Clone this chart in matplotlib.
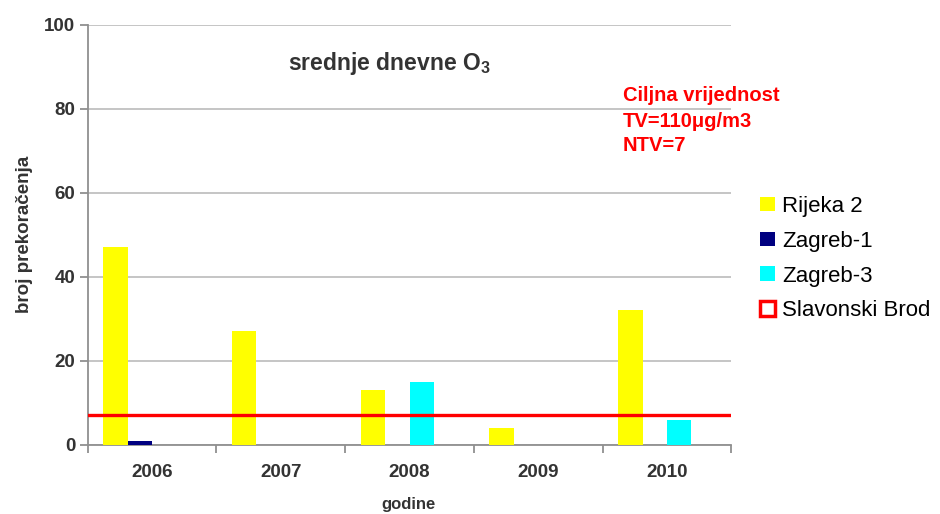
import numpy as np
import matplotlib
matplotlib.use("Agg")
import matplotlib.pyplot as plt

plt.rcParams['font.family'] = ['Liberation Sans', 'DejaVu Sans']

# Broj prekoračenja ciljne vrijednosti (srednje dnevne O3) po godinama
years = ['2006', '2007', '2008', '2009', '2010']
rijeka_2 = [47, 27, 13, 4, 32]
zagreb_1 = [1, 0, 0, 0, 0]
zagreb_3 = [0, 0, 15, 0, 6]
slavonski_brod = [np.nan, np.nan, np.nan, np.nan, np.nan]
ntv = 7

series = [
    ('Rijeka 2', rijeka_2, '#FFFF00', 'none'),
    ('Zagreb-1', zagreb_1, '#000080', 'none'),
    ('Zagreb-3', zagreb_3, '#00FFFF', 'none'),
    ('Slavonski Brod', slavonski_brod, 'white', '#FF0000'),
]

W, H = 940, 514
fig = plt.figure(figsize=(W / 100, H / 100), dpi=100)
ax = fig.add_axes([87.7 / W, 1 - 444.8 / H, (731.4 - 87.7) / W, (444.8 - 24.6) / H])

x = np.arange(len(years))
w = 0.19
handles = []
for i, (name, vals, fc, ec) in enumerate(series):
    off = (i - 1.5) * w
    b = ax.bar(x + off, vals, width=w, color=fc, edgecolor=ec,
               linewidth=2.5 if ec != 'none' else 0, label=name, zorder=3)
    handles.append(b)

ax.axhline(ntv, color='#FF0000', linewidth=2.4, zorder=4)

ax.set_xlim(-0.5, len(years) - 0.5)
ax.set_ylim(0, 100)
ax.set_yticks(np.arange(0, 101, 20))
ax.yaxis.grid(True, color='#C0C0C0', linewidth=1.3, zorder=0)
ax.set_axisbelow(True)

ax.set_xticks(x)
ax.set_xticklabels(years, fontsize=13.5, fontweight='bold', color='#333333')
ax.set_xticks(np.arange(-0.5, len(years)), minor=True)
ax.tick_params(axis='x', which='major', length=0, pad=14)
ax.tick_params(axis='x', which='minor', length=6, width=1.3, color='#909090')
ax.tick_params(axis='y', length=6, width=1.3, color='#909090', pad=3,
               labelsize=13.5, labelcolor='#333333')
for lab in ax.get_yticklabels():
    lab.set_fontweight('bold')

for s in ['top', 'right']:
    ax.spines[s].set_visible(False)
for s in ['left', 'bottom']:
    ax.spines[s].set_color('#909090')
    ax.spines[s].set_linewidth(1.3)

ax.set_ylabel('broj prekoračenja', fontsize=13.5, fontweight='bold', color='#333333', labelpad=8)
fig.text(408 / W, 1 - 505 / H, 'godine', fontsize=12, fontweight='bold', color='#333333',
         ha='center', va='center')

fig.text(288 / W, 1 - 70 / H, 'srednje dnevne O$_\\mathregular{3}$', fontsize=16.5,
         fontweight='bold', color='#333333', va='baseline', ha='left')

for txt, base in [('Ciljna vrijednost', 101), ('TV=110μg/m3', 127), ('NTV=7', 151)]:
    fig.text(623 / W, 1 - base / H, txt, fontsize=14.5, fontweight='bold',
             color='#FF0000', va='baseline', ha='left')

leg = fig.legend(handles=handles, labels=[s[0] for s in series], loc='upper left',
                 bbox_to_anchor=(760 / W, 1 - 196 / H), frameon=False,
                 fontsize=16, handlelength=0.68, handleheight=0.63, handletextpad=0.32,
                 labelspacing=0.62, borderaxespad=0, borderpad=0)

fig.savefig('out.png', dpi=100)
